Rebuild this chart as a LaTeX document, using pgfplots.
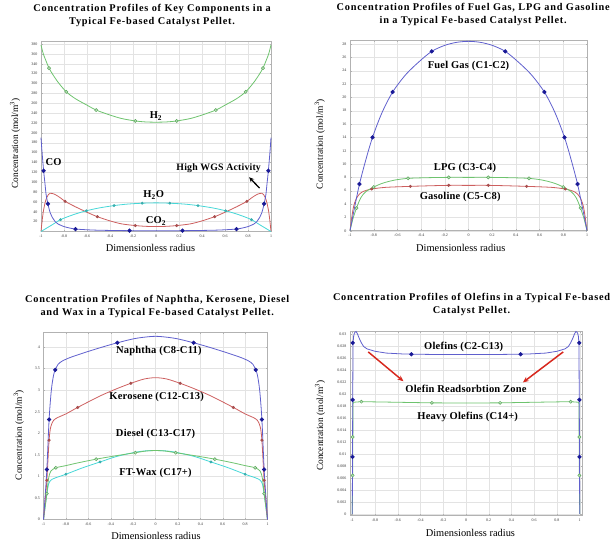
\documentclass[border=0pt]{standalone}
\usepackage{fontspec}
\setmainfont{Liberation Serif}
\newfontfamily\titlefont{Liberation Serif}[LetterSpace=7.5]
\newfontfamily\annfont{Liberation Serif}[LetterSpace=2]
\usepackage{pgfplots}
\pgfplotsset{compat=1.18}
\usetikzlibrary{arrows.meta}
\definecolor{cblue}{RGB}{95,95,205}
\definecolor{cbluem}{RGB}{25,25,150}
\definecolor{cgreen}{RGB}{110,195,110}
\definecolor{cred}{RGB}{205,95,95}
\definecolor{ccyan}{RGB}{70,215,215}
\definecolor{arrowred}{RGB}{215,40,30}
\tikzset{lbl/.style={font=\annfont\bfseries\fontsize{10.5}{12}\selectfont}}
\pgfplotsset{
  panel/.style={
    scale only axis, anchor=south west,
    xmin=-1, xmax=1, ymin=0,
    xtick={-1,-0.8,-0.6,-0.4,-0.2,0,0.2,0.4,0.6,0.8,1},
    grid=major, major grid style={gray!22, line width=0.3pt},
    axis line style={gray!60, line width=0.5pt},
    tick style={gray!60, line width=0.3pt}, tick align=inside, major tick length=1.5pt,
    ticklabel style={font=\fontsize{4}{4}\selectfont, text=black!80},
    /pgf/number format/assume math mode=true,
    scaled y ticks=false,
    xlabel={Dimensionless radius}, ylabel={Concentration (mol/m\textsuperscript{3})},
    xlabel style={font=\fontsize{10.4}{12}\selectfont, anchor=center},
    ylabel style={font=\fontsize{9.4}{11}\selectfont, anchor=center},
    title style={font=\titlefont\bfseries\fontsize{10.3}{13.3}\selectfont, align=center, anchor=center},
    clip=false,
    every axis plot/.append style={line width=0.8pt},
  },
  bluem/.style={only marks, mark=*, mark size=1.7pt, mark options={fill=cbluem, draw=cbluem}},
  greenm/.style={only marks, mark=*, mark size=1.6pt, mark options={fill=cgreen!45, draw=cgreen!85!black, line width=0.5pt}},
  redm/.style={only marks, mark=*, mark size=1.1pt, mark options={fill=cred, draw=cred!80!black}},
  cyanm/.style={only marks, mark=*, mark size=1.0pt, mark options={fill=ccyan, draw=ccyan!80!black}},
}
\begin{document}
\begin{tikzpicture}
\useasboundingbox (0,0) rectangle (611pt,-543pt);
% ---------------- Panel 1 ----------------
\begin{axis}[panel, at={(41pt,-231.5pt)}, width=230pt, height=190.5pt, ymax=386,
  ytick={20,40,60,80,100,120,140,160,180,200,220,240,260,280,300,320,340,360,380},
  ylabel style={at={(axis description cs:-0.113,0.463)}},
  xlabel style={at={(axis description cs:0.476,-0.087)}},
  title style={at={(axis description cs:0.483,1.102)}},
  title={Concentration Profiles of Key Components in a\\Typical Fe-based Catalyst Pellet.}]
\addplot[cgreen, smooth] coordinates {(-1,378) (-0.98,360) (-0.95,342) (-0.93,331) (-0.9,319) (-0.85,302) (-0.78,283) (-0.7,269) (-0.6,256) (-0.52,246) (-0.4,236) (-0.3,229) (-0.18,224) (-0.09,222) (0,221.5) (0.09,222) (0.18,224) (0.3,229) (0.4,236) (0.52,246) (0.6,256) (0.7,269) (0.78,283) (0.85,302) (0.9,319) (0.93,331) (0.95,342) (0.98,360) (1,378)};
\addplot[greenm] coordinates {(-0.93,331) (-0.78,283) (-0.52,246) (-0.18,224) (0.18,224) (0.52,246) (0.78,283) (0.93,331)};
\addplot[cred, smooth] coordinates {(-1,0) (-0.99,22) (-0.98,40) (-0.965,58) (-0.95,69) (-0.935,75) (-0.92,77.5) (-0.9,77) (-0.87,74) (-0.83,68) (-0.79,61) (-0.7,50) (-0.6,39) (-0.51,30) (-0.4,21.5) (-0.3,15.5) (-0.18,12) (-0.09,10.5) (0,10) (0.09,10.5) (0.18,12) (0.3,15.5) (0.4,21.5) (0.51,30) (0.6,39) (0.7,50) (0.79,61) (0.83,68) (0.87,74) (0.9,77) (0.92,77.5) (0.935,75) (0.95,69) (0.965,58) (0.98,40) (0.99,22) (1,0)};
\addplot[redm] coordinates {(-0.79,61) (-0.51,30) (-0.18,12) (0.18,12) (0.51,30) (0.79,61)};
\addplot[ccyan, smooth] coordinates {(-1,0) (-0.95,7) (-0.9,14) (-0.83,24) (-0.75,31.5) (-0.68,37) (-0.605,42) (-0.5,47.5) (-0.365,52.5) (-0.25,55.5) (-0.12,57.3) (0,58) (0.12,57.3) (0.25,55.5) (0.365,52.5) (0.5,47.5) (0.605,42) (0.68,37) (0.75,31.5) (0.83,24) (0.9,14) (0.95,7) (1,0)};
\addplot[cyanm] coordinates {(-0.83,24) (-0.605,42) (-0.365,52.5) (-0.12,57.3) (0.12,57.3) (0.365,52.5) (0.605,42) (0.83,24)};
\addplot[cblue, smooth] coordinates {(-1,190) (-0.99,158) (-0.977,123) (-0.965,96) (-0.955,74) (-0.94,56) (-0.93,46) (-0.92,38) (-0.9,28) (-0.88,21) (-0.85,15) (-0.8,10) (-0.75,7) (-0.7,5) (-0.6,3.5) (-0.5,2.6) (-0.35,2) (-0.2,1.6) (0,1.4) (0.2,1.6) (0.35,2) (0.5,2.6) (0.6,3.5) (0.7,5) (0.75,7) (0.8,10) (0.85,15) (0.88,21) (0.9,28) (0.92,38) (0.93,46) (0.94,56) (0.955,74) (0.965,96) (0.977,123) (0.99,158) (1,190)};
\addplot[bluem] coordinates {(-0.977,123) (-0.94,56) (-0.7,5) (-0.23,1.8) (0.23,1.8) (0.7,5) (0.94,56) (0.977,123)};
\node[lbl] at (axis cs:0,234) {H\textsubscript{2}};
\node[lbl] at (axis cs:-0.89,140) {CO};
\node[lbl] at (axis cs:-0.02,74) {H\textsubscript{2}O};
\node[lbl] at (axis cs:0,21) {CO\textsubscript{2}};
\node[lbl, font=\annfont\bfseries\fontsize{9.8}{12}\selectfont] at (axis cs:0.545,128) {High WGS Activity};
\draw[-{Stealth[length=5pt,width=4.5pt]}, line width=1.3pt] (axis cs:0.9,88) -- (axis cs:0.81,110);
\end{axis}
% ---------------- Panel 2 ----------------
\begin{axis}[panel, at={(350pt,-230.7pt)}, width=237pt, height=190.7pt, ymax=28.6,
  ytick={0,2,4,6,8,10,12,14,16,18,20,22,24,26,28},
  ylabel style={at={(axis description cs:-0.127,0.454)}},
  xlabel style={at={(axis description cs:0.4675,-0.092)}},
  title style={at={(axis description cs:0.52,1.104)}},
  title={Concentration Profiles of Fuel Gas, LPG and Gasoline\\in a Typical Fe-based Catalyst Pellet.}]
\addplot[cred, smooth] coordinates {(-1,0) (-0.985,2) (-0.97,3.6) (-0.95,4.7) (-0.92,5.5) (-0.88,5.95) (-0.816,6.25) (-0.7,6.5) (-0.49,6.65) (-0.3,6.75) (-0.167,6.8) (0,6.8) (0.167,6.8) (0.3,6.75) (0.49,6.65) (0.7,6.5) (0.816,6.25) (0.88,5.95) (0.92,5.5) (0.95,4.7) (0.97,3.6) (0.985,2) (1,0)};
\addplot[redm] coordinates {(-0.816,6.25) (-0.49,6.65) (-0.167,6.8) (0.167,6.8) (0.49,6.65) (0.816,6.25)};
\addplot[cgreen, smooth] coordinates {(-1,0) (-0.975,1.8) (-0.945,3.4) (-0.91,4.9) (-0.87,5.8) (-0.8,6.55) (-0.72,7.15) (-0.62,7.6) (-0.51,7.85) (-0.35,7.95) (-0.167,8) (0,8) (0.167,8) (0.35,7.95) (0.51,7.85) (0.62,7.6) (0.72,7.15) (0.8,6.55) (0.87,5.8) (0.91,4.9) (0.945,3.4) (0.975,1.8) (1,0)};
\addplot[greenm] coordinates {(-0.945,3.4) (-0.8,6.55) (-0.51,7.85) (-0.167,8) (0.167,8) (0.51,7.85) (0.8,6.55) (0.945,3.4)};
\addplot[cblue, smooth] coordinates {(-1,0) (-0.96,3.6) (-0.92,7) (-0.87,10.4) (-0.81,14) (-0.73,17.7) (-0.64,20.8) (-0.53,23.4) (-0.42,25.3) (-0.31,26.9) (-0.2,27.8) (-0.1,28.25) (0,28.4) (0.1,28.25) (0.2,27.8) (0.31,26.9) (0.42,25.3) (0.53,23.4) (0.64,20.8) (0.73,17.7) (0.81,14) (0.87,10.4) (0.92,7) (0.96,3.6) (1,0)};
\addplot[bluem] coordinates {(-0.92,7) (-0.81,14) (-0.64,20.8) (-0.31,26.9) (0.31,26.9) (0.64,20.8) (0.81,14) (0.92,7)};
\node[lbl] at (axis cs:0,24.7) {Fuel Gas (C1-C2)};
\node[lbl] at (axis cs:-0.03,9.35) {LPG (C3-C4)};
\node[lbl] at (axis cs:-0.07,5.0) {Gasoline (C5-C8)};
\end{axis}
% ---------------- Panel 3 ----------------
\begin{axis}[panel, at={(43.5pt,-519.5pt)}, width=224pt, height=187.5pt, ymax=4.35,
  ytick={0,0.5,1,1.5,2,2.5,3,3.5,4},
  ylabel style={at={(axis description cs:-0.11,0.45)}},
  xlabel style={at={(axis description cs:0.502,-0.088)}},
  title style={at={(axis description cs:0.508,1.104)}},
  title={Concentration Profiles of Naphtha, Kerosene, Diesel\\and Wax in a Typical Fe-based Catalyst Pellet.}]
\addplot[ccyan, smooth] coordinates {(-1,0) (-0.985,0.3) (-0.97,0.58) (-0.955,0.82) (-0.935,0.91) (-0.9,0.96) (-0.8,1.05) (-0.65,1.2) (-0.495,1.335) (-0.35,1.46) (-0.2,1.55) (-0.1,1.59) (0,1.6) (0.1,1.59) (0.2,1.55) (0.35,1.46) (0.495,1.335) (0.65,1.2) (0.8,1.05) (0.9,0.96) (0.935,0.91) (0.955,0.82) (0.97,0.58) (0.985,0.3) (1,0)};
\addplot[cyanm] coordinates {(-0.8,1.05) (-0.495,1.335) (0.495,1.335) (0.8,1.05)};
\addplot[cgreen, smooth] coordinates {(-1,0) (-0.985,0.3) (-0.97,0.6) (-0.955,0.95) (-0.935,1.12) (-0.89,1.2) (-0.8,1.25) (-0.7,1.31) (-0.53,1.4) (-0.35,1.48) (-0.18,1.55) (-0.08,1.59) (0,1.6) (0.08,1.59) (0.18,1.55) (0.35,1.48) (0.53,1.4) (0.7,1.31) (0.8,1.25) (0.89,1.2) (0.935,1.12) (0.955,0.95) (0.97,0.6) (0.985,0.3) (1,0)};
\addplot[greenm] coordinates {(-0.97,0.6) (-0.89,1.2) (-0.53,1.4) (-0.18,1.55) (0.18,1.55) (0.53,1.4) (0.89,1.2) (0.97,0.6)};
\addplot[cred, smooth] coordinates {(-1,0) (-0.985,0.45) (-0.97,0.91) (-0.95,1.84) (-0.935,2.15) (-0.91,2.3) (-0.87,2.37) (-0.8,2.45) (-0.695,2.6) (-0.5,2.86) (-0.35,3.03) (-0.22,3.16) (-0.1,3.26) (0,3.29) (0.1,3.26) (0.22,3.16) (0.35,3.03) (0.5,2.86) (0.695,2.6) (0.8,2.45) (0.87,2.37) (0.91,2.3) (0.935,2.15) (0.95,1.84) (0.97,0.91) (0.985,0.45) (1,0)};
\addplot[redm] coordinates {(-0.97,0.91) (-0.95,1.84) (-0.695,2.6) (-0.22,3.16) (0.22,3.16) (0.695,2.6) (0.95,1.84) (0.97,0.91)};
\addplot[cblue, smooth] coordinates {(-1,0) (-0.985,0.55) (-0.97,1.16) (-0.95,2.32) (-0.93,3.0) (-0.91,3.35) (-0.895,3.47) (-0.87,3.6) (-0.83,3.68) (-0.75,3.77) (-0.6,3.9) (-0.45,4.02) (-0.34,4.1) (-0.2,4.19) (-0.1,4.23) (0,4.25) (0.1,4.23) (0.2,4.19) (0.34,4.1) (0.45,4.02) (0.6,3.9) (0.75,3.77) (0.83,3.68) (0.87,3.6) (0.895,3.47) (0.91,3.35) (0.93,3.0) (0.95,2.32) (0.97,1.16) (0.985,0.55) (1,0)};
\addplot[bluem] coordinates {(-0.97,1.16) (-0.95,2.32) (-0.895,3.47) (-0.34,4.1) (0.34,4.1) (0.895,3.47) (0.95,2.32) (0.97,1.16)};
\node[lbl] at (axis cs:0.03,3.92) {Naphtha (C8-C11)};
\node[lbl] at (axis cs:0.01,2.84) {Kerosene (C12-C13)};
\node[lbl] at (axis cs:0,1.98) {Diesel (C13-C17)};
\node[lbl] at (axis cs:0,1.07) {FT-Wax (C17+)};
\end{axis}
% ---------------- Panel 4 ----------------
\begin{axis}[panel, at={(350pt,-515pt)}, width=232pt, height=183.5pt,
  xmin=-1.02, xmax=1.02, ymin=-0.0002, ymax=0.0304,
  ytick={0,0.002,0.004,0.006,0.008,0.01,0.012,0.014,0.016,0.018,0.02,0.022,0.024,0.026,0.028,0.03},
  yticklabel style={/pgf/number format/.cd, fixed, precision=3},
  ylabel style={at={(axis description cs:-0.129,0.486)}},
  xlabel style={at={(axis description cs:0.519,-0.1)}},
  title style={at={(axis description cs:0.524,1.113)}},
  title={Concentration Profiles of Olefins in a Typical Fe-based\\Catalyst Pellet.}]
\addplot[cgreen] coordinates {(-1,0) (-0.997,0.0064) (-0.995,0.0128) (-0.993,0.0183) (-0.99,0.0186) (-0.92,0.0187) (-0.6,0.0186) (-0.3,0.0185) (0,0.01848) (0.3,0.0185) (0.6,0.0186) (0.92,0.0187) (0.99,0.0186) (0.993,0.0183) (0.995,0.0128) (0.997,0.0064) (1,0)};
\addplot[greenm] coordinates {(-0.997,0.0064) (-0.997,0.0128) (-0.92,0.0187) (-0.3,0.0185) (0.3,0.0185) (0.92,0.0187) (0.997,0.0128) (0.997,0.0064)};
\addplot[cblue] coordinates {(-1,0) (-0.998,0.0095) (-0.996,0.019) (-0.993,0.0285) (-0.988,0.0296) (-0.982,0.0301) (-0.975,0.0303) (-0.967,0.0304) (-0.96,0.0302) (-0.952,0.0299) (-0.944,0.0295) (-0.935,0.0291) (-0.92,0.0285) (-0.9,0.0279) (-0.87,0.0275) (-0.8,0.0271) (-0.7,0.0268) (-0.55,0.02665) (-0.4,0.0266) (-0.2,0.02655) (0,0.02655) (0.2,0.02655) (0.4,0.0266) (0.55,0.02665) (0.7,0.0268) (0.8,0.0271) (0.87,0.0275) (0.9,0.0279) (0.92,0.0285) (0.935,0.0291) (0.944,0.0295) (0.952,0.0299) (0.96,0.0302) (0.967,0.0304) (0.975,0.0303) (0.982,0.0301) (0.988,0.0296) (0.993,0.0285) (0.996,0.019) (0.998,0.0095) (1,0)};
\addplot[bluem] coordinates {(-0.996,0.0285) (-0.997,0.019) (-0.998,0.0095) (-0.48,0.0266) (0.48,0.0266) (0.996,0.0285) (0.997,0.019) (0.998,0.0095)};
\node[lbl] at (axis cs:-0.02,0.0279) {Olefins (C2-C13)};
\node[lbl] at (axis cs:0,0.0208) {Olefin Readsorbtion Zone};
\node[lbl] at (axis cs:0.015,0.0161) {Heavy Olefins (C14+)};
\draw[-{Stealth[length=6pt,width=5pt]}, line width=1.5pt, arrowred] (axis cs:-0.86,0.0270) -- (axis cs:-0.55,0.0221);
\draw[-{Stealth[length=6pt,width=5pt]}, line width=1.5pt, arrowred] (axis cs:0.855,0.0270) -- (axis cs:0.50,0.0219);
\end{axis}
\end{tikzpicture}
\end{document}
